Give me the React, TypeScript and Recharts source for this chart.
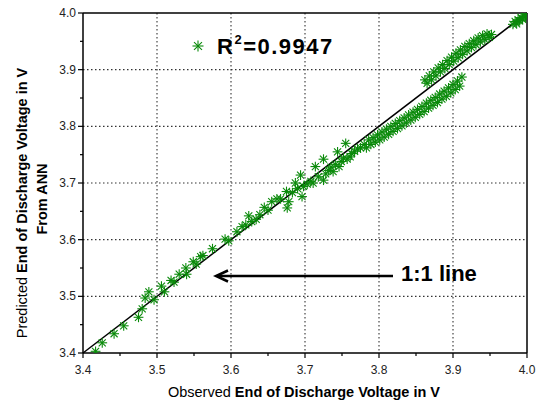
import React from 'react';
import { ScatterChart, Scatter, XAxis, YAxis, ReferenceLine, CartesianGrid } from 'recharts';

const lowRange: [number, number][] = [
  [3.417, 3.403], [3.426, 3.418], [3.442, 3.434], [3.455, 3.448], [3.475, 3.463],
  [3.48, 3.478], [3.484, 3.497], [3.489, 3.508], [3.496, 3.494], [3.506, 3.518],
  [3.51, 3.508], [3.519, 3.528], [3.523, 3.525], [3.53, 3.539], [3.539, 3.55],
  [3.54, 3.539], [3.549, 3.561], [3.553, 3.557], [3.559, 3.57], [3.562, 3.572],
  [3.575, 3.584], [3.592, 3.601], [3.597, 3.598], [3.608, 3.614], [3.615, 3.623],
  [3.62, 3.626], [3.624, 3.642], [3.628, 3.632], [3.634, 3.636], [3.639, 3.644],
  [3.645, 3.657], [3.65, 3.652], [3.655, 3.667], [3.662, 3.672], [3.667, 3.672],
  [3.675, 3.685], [3.676, 3.656], [3.678, 3.667], [3.683, 3.683], [3.687, 3.7],
  [3.69, 3.69], [3.694, 3.714], [3.696, 3.676], [3.698, 3.694], [3.703, 3.698],
  [3.708, 3.703], [3.711, 3.7], [3.714, 3.729], [3.725, 3.742],
];

const midRange: [number, number][] = [
  [3.718, 3.711], [3.725, 3.705], [3.728, 3.716], [3.732, 3.722], [3.735, 3.728],
  [3.738, 3.72], [3.741, 3.733], [3.744, 3.755], [3.746, 3.729], [3.749, 3.738],
  [3.752, 3.744], [3.755, 3.77], [3.757, 3.742], [3.761, 3.746], [3.763, 3.752],
  [3.767, 3.756], [3.771, 3.76], [3.775, 3.762],
];

const lowerBand: [number, number][] = [
  [3.78, 3.768], [3.783, 3.762], [3.786, 3.776], [3.789, 3.768], [3.792, 3.78],
  [3.795, 3.772], [3.798, 3.785], [3.801, 3.776], [3.804, 3.79], [3.807, 3.781],
  [3.81, 3.795], [3.813, 3.786], [3.816, 3.8], [3.819, 3.791], [3.822, 3.805],
  [3.825, 3.796], [3.828, 3.81], [3.831, 3.801], [3.834, 3.815], [3.837, 3.806],
  [3.84, 3.82], [3.843, 3.811], [3.846, 3.825], [3.849, 3.816], [3.852, 3.83],
  [3.855, 3.821], [3.858, 3.835], [3.861, 3.826], [3.864, 3.841], [3.867, 3.832],
  [3.87, 3.846], [3.873, 3.837], [3.876, 3.851], [3.879, 3.842], [3.882, 3.857],
  [3.885, 3.848], [3.888, 3.862], [3.891, 3.853], [3.894, 3.868], [3.897, 3.859],
  [3.9, 3.874], [3.903, 3.865], [3.906, 3.88], [3.909, 3.871], [3.912, 3.887],
];

const upperBand: [number, number][] = [
  [3.862, 3.882], [3.865, 3.876], [3.868, 3.889], [3.871, 3.882], [3.874, 3.896],
  [3.877, 3.889], [3.88, 3.903], [3.883, 3.896], [3.886, 3.909], [3.889, 3.902],
  [3.892, 3.916], [3.895, 3.909], [3.898, 3.922], [3.901, 3.915], [3.904, 3.929],
  [3.907, 3.921], [3.91, 3.935], [3.913, 3.927], [3.916, 3.941], [3.919, 3.933],
  [3.922, 3.946], [3.925, 3.939], [3.928, 3.951], [3.931, 3.944], [3.934, 3.956],
  [3.937, 3.949], [3.94, 3.96], [3.943, 3.953], [3.946, 3.963], [3.949, 3.957],
  [3.952, 3.962],
];

const topCluster: [number, number][] = [
  [3.981, 3.98], [3.984, 3.985], [3.986, 3.981], [3.988, 3.988], [3.99, 3.986],
  [3.992, 3.992], [3.994, 3.989], [3.996, 3.995], [3.998, 3.993], [3.999, 3.998],
];

const axisTicks = [3.4, 3.45, 3.5, 3.55, 3.6, 3.65, 3.7, 3.75, 3.8, 3.85, 3.9, 3.95, 4.0];
const gridTicks = [3.5, 3.6, 3.7, 3.8, 3.9];
const domainMin = 3.4;
const domainMax = 4.0;
const r2Label = '0.9947';

const data = [...lowRange, ...midRange, ...lowerBand, ...upperBand, ...topCluster].map(([x, y]) => ({ x, y }));

const FONT = '"Liberation Sans", Arial, sans-serif';
const GREEN = '#0a8a0a';

const isMajor = (v: number) => Math.abs(v * 10 - Math.round(v * 10)) < 1e-6;

const Star = ({ cx, cy, r = 4.9 }: { cx: number; cy: number; r?: number }) => {
  const d = r * 0.72;
  return (
    <g stroke={GREEN} strokeWidth={1.1}>
      <line x1={cx - r} y1={cy} x2={cx + r} y2={cy} />
      <line x1={cx} y1={cy - r} x2={cx} y2={cy + r} />
      <line x1={cx - d} y1={cy - d} x2={cx + d} y2={cy + d} />
      <line x1={cx - d} y1={cy + d} x2={cx + d} y2={cy - d} />
    </g>
  );
};

const AxisTick = (props: any) => {
  const { x, y, payload, side } = props;
  const v = payload.value as number;
  const len = isMajor(v) ? 5 : 3;
  const label = v.toFixed(1);
  if (side === 'bottom') {
    return (
      <g>
        <line x1={x} y1={y} x2={x} y2={y + len} stroke="#000" strokeWidth={1.2} />
        {isMajor(v) && (
          <text x={x} y={y + 21} textAnchor="middle" fontSize={12} fontFamily={FONT} fill="#222">{label}</text>
        )}
      </g>
    );
  }
  if (side === 'left') {
    return (
      <g>
        <line x1={x} y1={y} x2={x - len} y2={y} stroke="#000" strokeWidth={1.2} />
        {isMajor(v) && (
          <text x={x - 7} y={y + 4} textAnchor="end" fontSize={12} fontFamily={FONT} fill="#222">{label}</text>
        )}
      </g>
    );
  }
  if (side === 'top') {
    return <line x1={x} y1={y} x2={x} y2={y + len} stroke="#000" strokeWidth={1.2} />;
  }
  return <line x1={x} y1={y} x2={x - len} y2={y} stroke="#000" strokeWidth={1.2} />;
};

// grid only at the major ticks, positioned with the axis scale
const verticalGrid = ({ xAxis, offset }: any) =>
  gridTicks.map((v) =>
    xAxis && typeof xAxis.scale === 'function'
      ? xAxis.scale(v)
      : offset.left + ((v - domainMin) / (domainMax - domainMin)) * offset.width
  );

const horizontalGrid = ({ yAxis, offset }: any) =>
  gridTicks.map((v) =>
    yAxis && typeof yAxis.scale === 'function'
      ? yAxis.scale(v)
      : offset.top + ((domainMax - v) / (domainMax - domainMin)) * offset.height
  );

const App: React.FC = () => {
  return (
    <div style={{ position: 'absolute', left: 0, top: 0, width: 536, height: 402, background: '#fff' }}>
      <ScatterChart width={536} height={402} margin={{ top: 3, right: 0, bottom: 0, left: 0 }}>
        <CartesianGrid
          stroke="#333"
          strokeWidth={1.1}
          strokeDasharray="1.5 2.5"
          verticalCoordinatesGenerator={verticalGrid}
          horizontalCoordinatesGenerator={horizontalGrid}
        />
        <XAxis
          dataKey="x"
          type="number"
          domain={[domainMin, domainMax]}
          ticks={axisTicks}
          interval={0}
          height={49}
          tickSize={0}
          tickMargin={0}
          tickLine={false}
          axisLine={{ stroke: '#000', strokeWidth: 1.5 }}
          tick={(p: any) => <AxisTick {...p} side="bottom" />}
          allowDataOverflow
        />
        <XAxis
          xAxisId="top"
          orientation="top"
          type="number"
          domain={[domainMin, domainMax]}
          ticks={axisTicks}
          interval={0}
          height={10}
          tickSize={0}
          tickMargin={0}
          tickLine={false}
          axisLine={{ stroke: '#000', strokeWidth: 1.5 }}
          tick={(p: any) => <AxisTick {...p} side="top" />}
        />
        <YAxis
          dataKey="y"
          type="number"
          domain={[domainMin, domainMax]}
          ticks={axisTicks}
          interval={0}
          width={83}
          tickSize={0}
          tickMargin={0}
          tickLine={false}
          axisLine={{ stroke: '#000', strokeWidth: 1.5 }}
          tick={(p: any) => <AxisTick {...p} side="left" />}
          allowDataOverflow
        />
        <YAxis
          yAxisId="right"
          orientation="right"
          type="number"
          domain={[domainMin, domainMax]}
          ticks={axisTicks}
          interval={0}
          width={9}
          tickSize={0}
          tickMargin={0}
          tickLine={false}
          axisLine={{ stroke: '#000', strokeWidth: 1.5 }}
          tick={(p: any) => <AxisTick {...p} side="right" />}
        />
        <Scatter
          data={data}
          isAnimationActive={false}
          shape={(p: any) => <Star cx={p.cx} cy={p.cy} />}
        />
        <ReferenceLine
          segment={[{ x: domainMin, y: domainMin }, { x: domainMax, y: domainMax }]}
          stroke="#000"
          strokeWidth={1.5}
        />
      </ScatterChart>
      <svg
        width={536}
        height={402}
        style={{ position: 'absolute', left: 0, top: 0, pointerEvents: 'none' }}
        fontFamily={FONT}
      >
        <Star cx={198} cy={46} r={5.5} />
        <text x={217} y={54} fontSize={22} fontWeight="bold" letterSpacing={1.5} fill="#000">
          R<tspan fontSize={13} dy={-10}>2</tspan>
          <tspan dy={10}>={r2Label}</tspan>
        </text>
        <line x1={217} y1={276} x2={393} y2={276} stroke="#000" strokeWidth={2.5} />
        <polyline points="228,270.5 216,276 228,281.5" fill="none" stroke="#000" strokeWidth={2.5} />
        <text x={401} y={281} fontSize={22} fontWeight="bold" fill="#000">1:1 line</text>
        <text x={304} y={397} fontSize={14.5} textAnchor="middle" fill="#000">
          Observed <tspan fontWeight="bold">End of Discharge Voltage in V</tspan>
        </text>
        <text x={27} y={203} fontSize={14.5} textAnchor="middle" fill="#000" transform="rotate(-90 27 203)">
          Predicted <tspan fontWeight="bold">End of Discharge Voltage in V</tspan>
        </text>
        <text x={47} y={199} fontSize={14.5} textAnchor="middle" fontWeight="bold" fill="#000" transform="rotate(-90 47 199)">
          From ANN
        </text>
      </svg>
    </div>
  );
};

export default App;
